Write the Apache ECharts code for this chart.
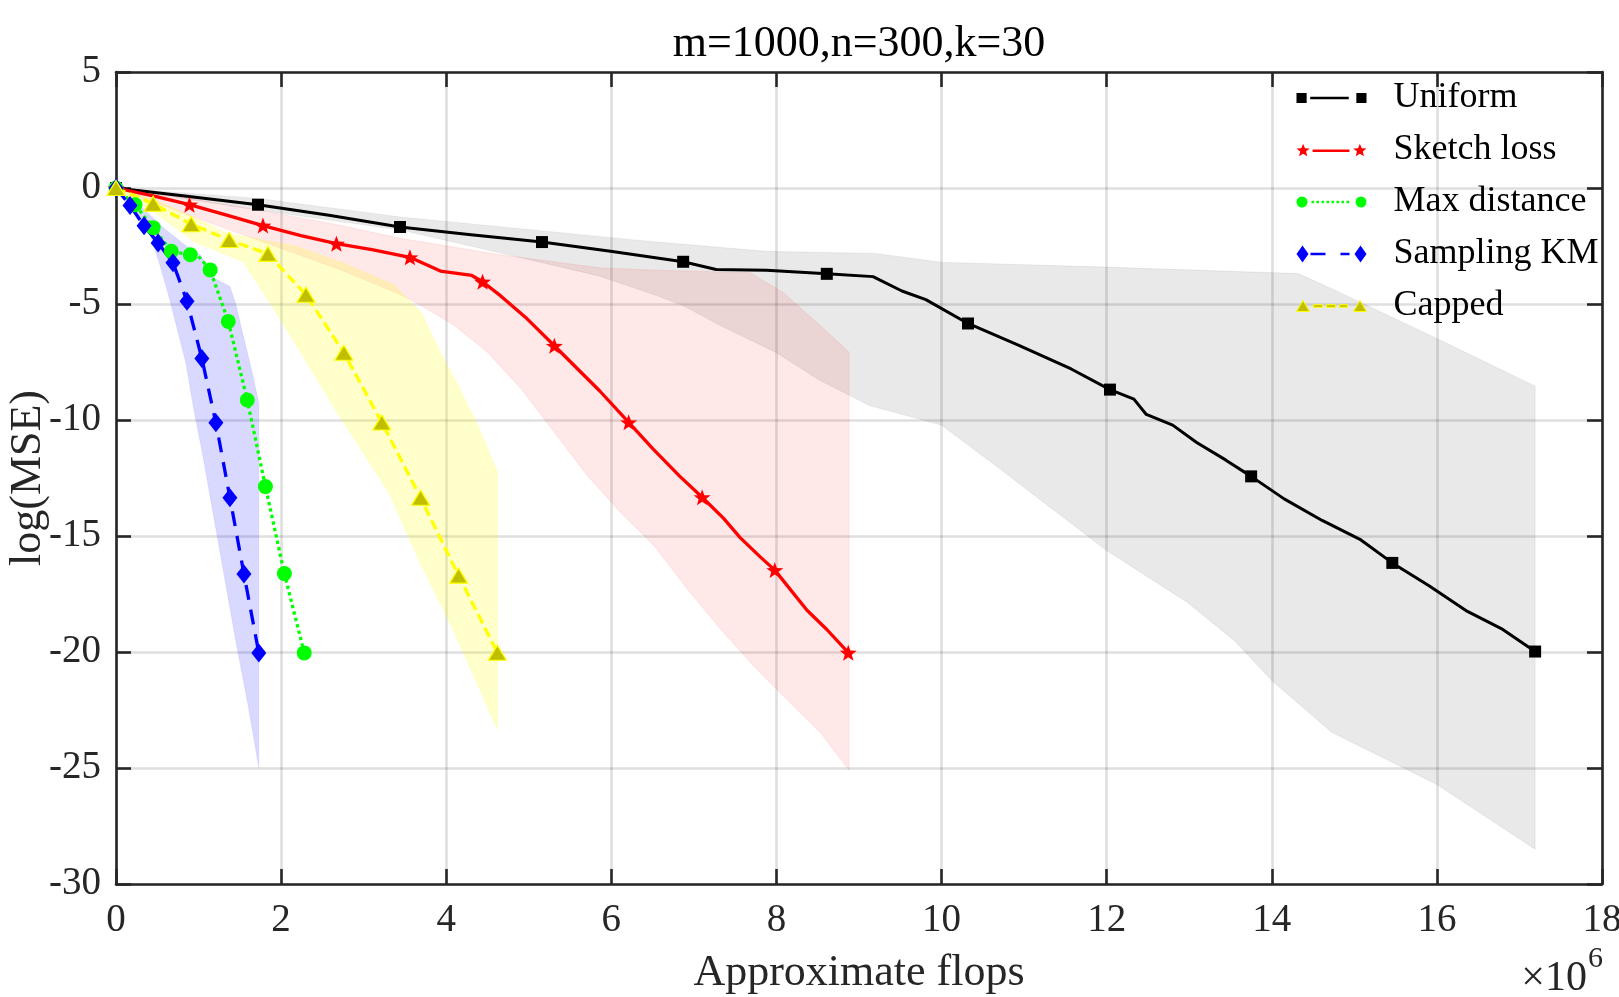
<!DOCTYPE html>
<html>
<head>
<meta charset="utf-8">
<script src="https://cdn.jsdelivr.net/npm/echarts@6.0.0/dist/echarts.min.js"></script>
<style>
html, body { margin: 0; padding: 0; background: #fff; }
#chart { width: 1619px; height: 997px; }
</style>
</head>
<body>
<div id="chart"></div>
<script>
// values, x in units of 1e6 flops, y = log(MSE)
var uniformLine = [[0,0],[0.86,-0.36],[1.72,-0.72],[2.58,-1.17],[3.44,-1.68],[4.3,-2.02],[5.16,-2.33],[5.99,-2.73],[6.87,-3.18],[7.27,-3.51],[7.88,-3.54],[8.61,-3.7],[9.17,-3.82],[9.52,-4.44],[9.81,-4.81],[10.32,-5.84],[10.93,-6.77],[11.57,-7.8],[12.04,-8.69],[12.33,-9.1],[12.48,-9.76],[12.8,-10.22],[13.09,-10.97],[13.44,-11.72],[13.75,-12.43],[14.15,-13.4],[14.61,-14.33],[15.08,-15.17],[15.46,-16.16],[15.9,-17.13],[16.37,-18.25],[16.78,-18.99],[17.19,-19.98]];
var uniformMarks = [[0,0],[1.72,-0.72],[3.44,-1.68],[5.16,-2.33],[6.87,-3.18],[8.61,-3.7],[10.32,-5.84],[12.04,-8.69],[13.75,-12.43],[15.46,-16.16],[17.19,-19.98]];

var sketchLine = [[0,0],[0.45,-0.34],[0.89,-0.72],[1.33,-1.16],[1.78,-1.62],[2.24,-2.05],[2.67,-2.4],[3.1,-2.66],[3.56,-2.99],[3.93,-3.58],[4.31,-3.77],[4.44,-4.04],[4.66,-4.65],[4.98,-5.64],[5.31,-6.8],[5.58,-7.76],[5.86,-8.75],[6.21,-10.1],[6.51,-11.27],[6.83,-12.43],[7.1,-13.33],[7.36,-14.24],[7.56,-15.07],[7.8,-15.89],[7.98,-16.47],[8.37,-18.2],[8.61,-19.03],[8.87,-20.03]];
var sketchMarks = [[0,0],[0.89,-0.72],[1.78,-1.62],[2.67,-2.4],[3.56,-2.99],[4.44,-4.04],[5.31,-6.8],[6.21,-10.1],[7.1,-13.33],[7.98,-16.47],[8.87,-20.03]];

var maxDistLine = [[0,0],[0.23,-0.72],[0.45,-1.71],[0.67,-2.73],[0.9,-2.88],[1.0,-2.95],[1.14,-3.53],[1.36,-5.75],[1.59,-9.14],[1.81,-12.87],[2.04,-16.62],[2.28,-20.04]];
var maxDistMarks = [[0,0],[0.23,-0.72],[0.45,-1.71],[0.67,-2.73],[0.9,-2.88],[1.14,-3.53],[1.36,-5.75],[1.59,-9.14],[1.81,-12.87],[2.04,-16.62],[2.28,-20.04]];

var samplingMarks = [[0,0],[0.17,-0.75],[0.34,-1.63],[0.51,-2.37],[0.69,-3.22],[0.86,-4.88],[1.04,-7.35],[1.21,-10.12],[1.38,-13.35],[1.55,-16.64],[1.73,-20.04]];
var cappedMarks = [[0,0],[0.45,-0.68],[0.91,-1.56],[1.37,-2.24],[1.84,-2.84],[2.3,-4.6],[2.76,-7.1],[3.22,-10.11],[3.69,-13.35],[4.15,-16.71],[4.62,-20.03]];

// shaded spread of each method: upper and lower edges
var uniformUpper = [[0,0],[1.72,-0.45],[3.45,-1.25],[5.06,-1.81],[6.27,-2.24],[7.88,-2.73],[9.2,-2.82],[10,-3.2],[12,-3.41],[14.32,-3.69],[14.73,-4.35],[16,-6.49],[17.19,-8.54]];
var uniformLower = [[0,0],[1.72,-0.95],[3.45,-1.81],[4.66,-2.8],[5.86,-3.8],[6.52,-4.6],[6.87,-5.07],[7.32,-5.93],[8.0,-7.1],[8.53,-8.3],[9.13,-9.38],[10,-10.22],[10.63,-11.9],[12,-15.63],[12.98,-17.87],[13.56,-19.55],[14,-21.23],[14.73,-23.47],[16,-25.71],[17.19,-28.5]];
var sketchUpper = [[0,0],[0.9,-0.45],[1.8,-1.0],[2.7,-1.6],[3.45,-2.17],[4.66,-2.88],[5.86,-3.44],[6.6,-3.55],[7.68,-3.65],[8.08,-4.5],[8.53,-5.93],[8.88,-7.08]];
var sketchLower = [[0,0],[0.9,-1.2],[1.8,-2.35],[2.7,-3.5],[3.45,-4.6],[3.7,-5.07],[4.1,-5.93],[4.5,-7.08],[4.91,-8.66],[5.31,-10.53],[5.71,-12.4],[6.11,-13.98],[6.52,-15.42],[6.92,-17.28],[7.32,-19.0],[7.72,-20.59],[8.12,-22.03],[8.53,-23.46],[8.88,-25.1]];
var cappedUpper = [[0,0],[0.45,-0.5],[0.9,-1.2],[1.34,-1.95],[2.19,-2.52],[2.75,-3.24],[3.36,-4.17],[3.7,-5.4],[3.9,-6.9],[4.1,-8.23],[4.38,-10.24],[4.62,-12.26]];
var cappedLower = [[0,0],[0.45,-1.0],[0.94,-2.3],[1.54,-3.17],[1.86,-4.9],[2.19,-6.8],[2.71,-9.84],[3.31,-13.14],[3.68,-16.1],[4.1,-19.15],[4.62,-23.3]];
var samplingUpper = [[0,0],[0.3,-0.8],[0.6,-1.8],[0.85,-2.5],[1.02,-2.88],[1.2,-3.9],[1.38,-4.25],[1.45,-5.0],[1.55,-6.5],[1.66,-8.1],[1.73,-9.3]];
var samplingLower = [[0,0],[0.2,-1.0],[0.41,-1.95],[0.53,-3.3],[0.65,-4.8],[0.75,-6.2],[0.85,-7.6],[0.94,-9.5],[1.05,-11.5],[1.15,-13.5],[1.3,-16.5],[1.45,-19.5],[1.6,-22.3],[1.73,-25]];

var seriesNames = ['Uniform', 'Sketch loss', 'Max distance', 'Sampling KM', 'Capped'];
var xRange = [0, 18, 2];
var yRange = [-30, 5, 5];

var FONT = 'Liberation Serif';
var AXIS = '#262626';

// little path helpers for the markers / legend icons
function rect(x, y, w, h) { return 'M' + x + ' ' + y + 'h' + w + 'v' + h + 'h' + (-w) + 'Z'; }
function circle(cx, cy, r) { return 'M' + (cx - r) + ' ' + cy + 'a' + r + ' ' + r + ' 0 1 0 ' + (2 * r) + ' 0a' + r + ' ' + r + ' 0 1 0 ' + (-2 * r) + ' 0Z'; }
function diamond(cx, cy, w, h) { return 'M' + cx + ' ' + (cy - h / 2) + 'L' + (cx + w / 2) + ' ' + cy + 'L' + cx + ' ' + (cy + h / 2) + 'L' + (cx - w / 2) + ' ' + cy + 'Z'; }
function triangle(cx, cy, w, h) { return 'M' + cx + ' ' + (cy - h / 2) + 'L' + (cx + w / 2) + ' ' + (cy + h / 2) + 'L' + (cx - w / 2) + ' ' + (cy + h / 2) + 'Z'; }
function star(cx, cy, R, r) {
    var d = '';
    for (var i = 0; i < 10; i++) {
        var a = -Math.PI / 2 + i * Math.PI / 5;
        var rad = i % 2 === 0 ? R : r;
        d += (i === 0 ? 'M' : 'L') + (cx + rad * Math.cos(a)).toFixed(2) + ' ' + (cy + rad * Math.sin(a)).toFixed(2);
    }
    return d + 'Z';
}

var starSymbol = 'path://' + star(7, 7, 7, 2.9);

var legendIcons = {
    'Uniform': 'path://' + rect(0.5, 3.5, 10, 10) + rect(14, 7.25, 38, 2.6) + rect(59.5, 3.5, 10, 10),
    'Sketch loss': 'path://' + star(6.5, 9, 7, 3.1) + rect(16, 7.75, 37, 2.6) + star(63.5, 9, 7, 3.1),
    'Max distance': 'path://' + circle(5.5, 8.5, 5.5) + rect(15, 7.25, 2.6, 2.6) + rect(20, 7.25, 2.6, 2.6) + rect(25, 7.25, 2.6, 2.6) + rect(30, 7.25, 2.6, 2.6) + rect(35, 7.25, 2.6, 2.6) + rect(40, 7.25, 2.6, 2.6) + rect(45, 7.25, 2.6, 2.6) + rect(50, 7.25, 2.6, 2.6) + circle(64.5, 8.5, 5.5),
    'Sampling KM': 'path://' + diamond(6, 8.5, 12, 17) + rect(14, 7.25, 15, 2.6) + rect(44, 7.25, 9, 2.6) + diamond(64, 8.5, 12, 17),
    'Capped': 'path://' + triangle(6.5, 9, 13, 11) + rect(17, 7.75, 9, 2.6) + rect(30, 7.75, 9, 2.6) + rect(43, 7.75, 8, 2.6) + triangle(63.5, 9, 13, 11)
};

function bandSeries(upper, lower, fill, edge) {
    var pts = upper.concat(lower.slice().reverse());
    return {
        type: 'custom',
        silent: true,
        z: 1,
        data: pts,
        renderItem: function (params, api) {
            if (params.dataIndex !== 0) return null;
            var poly = pts.map(function (p) { return api.coord(p); });
            return {
                type: 'polygon',
                shape: { points: poly },
                style: { fill: fill, stroke: edge, lineWidth: 1.2 }
            };
        }
    };
}

function lineSeries(name, data, color, width, dash) {
    return {
        name: name, type: 'line', data: data, symbol: 'none', z: 3, silent: true,
        lineStyle: { color: color, width: width, type: dash, cap: 'butt', join: 'round' },
        itemStyle: { color: color }
    };
}

function markSeries(name, data, symbol, size, fill, border) {
    return {
        name: name, type: 'scatter', data: data, symbol: symbol, symbolSize: size, z: 4, silent: true,
        itemStyle: { color: fill, borderColor: border || fill, borderWidth: border ? 1.2 : 0, opacity: 1 }
    };
}

var chart = echarts.init(document.getElementById('chart'));

var axisLineStyle = { color: AXIS, width: 2.6 };
var tickStyle = { inside: true, length: 15, lineStyle: { color: AXIS, width: 2.6 } };
var labelStyle = { fontFamily: FONT, fontSize: 39, color: AXIS };
var gridLine = { show: true, lineStyle: { color: 'rgba(38,38,38,0.15)', width: 2.6 } };

var option = {
    animation: false,
    backgroundColor: '#fff',
    title: {
        text: 'm=1000,n=300,k=30',
        left: 854, top: 17, textAlign: 'center',
        textStyle: { fontFamily: FONT, fontSize: 44, fontWeight: 'normal', color: '#000' }
    },
    grid: { left: 116, right: 17, top: 72, bottom: 113, outerBoundsMode: 'none', containLabel: false },
    legend: {
        orient: 'vertical', left: 1296, top: 80, padding: 0,
        itemWidth: 70, itemHeight: 17, itemGap: 16,
        symbolKeepAspect: true, selectedMode: false,
        textStyle: { fontFamily: FONT, fontSize: 36, color: '#000', padding: [0, 0, 0, 22] },
        data: [
            { name: 'Uniform', icon: legendIcons['Uniform'], itemStyle: { color: '#000', borderWidth: 0 } },
            { name: 'Sketch loss', icon: legendIcons['Sketch loss'], itemStyle: { color: '#ff0000', borderWidth: 0 } },
            { name: 'Max distance', icon: legendIcons['Max distance'], itemStyle: { color: '#00ff00', borderWidth: 0 } },
            { name: 'Sampling KM', icon: legendIcons['Sampling KM'], itemStyle: { color: '#0000ff', borderWidth: 0 } },
            { name: 'Capped', icon: legendIcons['Capped'], itemStyle: { color: '#bfbf00', borderColor: '#ffff00', borderWidth: 1 } }
        ]
    },
    xAxis: [{
        type: 'value', min: xRange[0], max: xRange[1], interval: xRange[2], position: 'bottom',
        name: 'Approximate flops', nameLocation: 'middle', nameGap: 67, nameMoveOverlap: false,
        nameTextStyle: { fontFamily: FONT, fontSize: 44, color: AXIS },
        axisLine: { show: true, onZero: false, lineStyle: axisLineStyle },
        axisTick: tickStyle,
        axisLabel: Object.assign({ margin: 17 }, labelStyle),
        splitLine: gridLine
    }, {
        type: 'value', min: xRange[0], max: xRange[1], interval: xRange[2], position: 'top',
        axisLine: { show: true, onZero: false, lineStyle: axisLineStyle },
        axisTick: tickStyle, axisLabel: { show: false }, splitLine: { show: false }
    }],
    yAxis: [{
        type: 'value', min: yRange[0], max: yRange[1], interval: yRange[2], position: 'left',
        name: 'log(MSE)', nameLocation: 'middle', nameGap: 66, nameMoveOverlap: false,
        nameTextStyle: { fontFamily: FONT, fontSize: 44, color: AXIS },
        axisLine: { show: true, onZero: false, lineStyle: axisLineStyle },
        axisTick: tickStyle,
        axisLabel: Object.assign({ margin: 15 }, labelStyle),
        splitLine: gridLine
    }, {
        type: 'value', min: yRange[0], max: yRange[1], interval: yRange[2], position: 'right',
        axisLine: { show: true, onZero: false, lineStyle: axisLineStyle },
        axisTick: tickStyle, axisLabel: { show: false }, splitLine: { show: false }
    }],
    graphic: [
        { type: 'text', x: 1587, y: 979, silent: true, style: { text: '\u00d710', font: '42px "Liberation Serif"', fill: AXIS, align: 'right', verticalAlign: 'middle' } },
        { type: 'text', x: 1588, y: 959, silent: true, style: { text: '6', font: '30px "Liberation Serif"', fill: AXIS, align: 'left', verticalAlign: 'middle' } }
    ],
    series: [
        bandSeries(uniformUpper, uniformLower, 'rgba(0,0,0,0.085)', 'rgba(0,0,0,0.05)'),
        bandSeries(sketchUpper, sketchLower, 'rgba(255,0,0,0.09)', 'rgba(255,0,0,0.06)'),
        bandSeries(cappedUpper, cappedLower, 'rgba(255,255,0,0.2)', 'rgba(255,255,0,0.15)'),
        bandSeries(samplingUpper, samplingLower, 'rgba(0,0,255,0.15)', 'rgba(0,0,255,0.06)'),

        lineSeries(seriesNames[0], uniformLine, '#000000', 3, 'solid'),
        markSeries(seriesNames[0], uniformMarks, 'rect', 12, '#000000'),
        lineSeries(seriesNames[1], sketchLine, '#ff0000', 3.3, 'solid'),
        markSeries(seriesNames[1], sketchMarks, starSymbol, [17, 16], '#ff0000'),
        lineSeries(seriesNames[2], maxDistLine, '#00ff00', 3.3, [3.3, 3.3]),
        markSeries(seriesNames[2], maxDistMarks, 'circle', 15, '#00ff00'),
        lineSeries(seriesNames[3], samplingMarks, '#0000ff', 3.3, [15, 10]),
        markSeries(seriesNames[3], samplingMarks, 'diamond', [15, 19], '#0000ff'),
        lineSeries(seriesNames[4], cappedMarks, '#ffff00', 3.3, [10, 5]),
        markSeries(seriesNames[4], cappedMarks, 'triangle', [18, 15], '#bfbf00', '#ffff00')
    ]
};

chart.setOption(option);
</script>
</body>
</html>
